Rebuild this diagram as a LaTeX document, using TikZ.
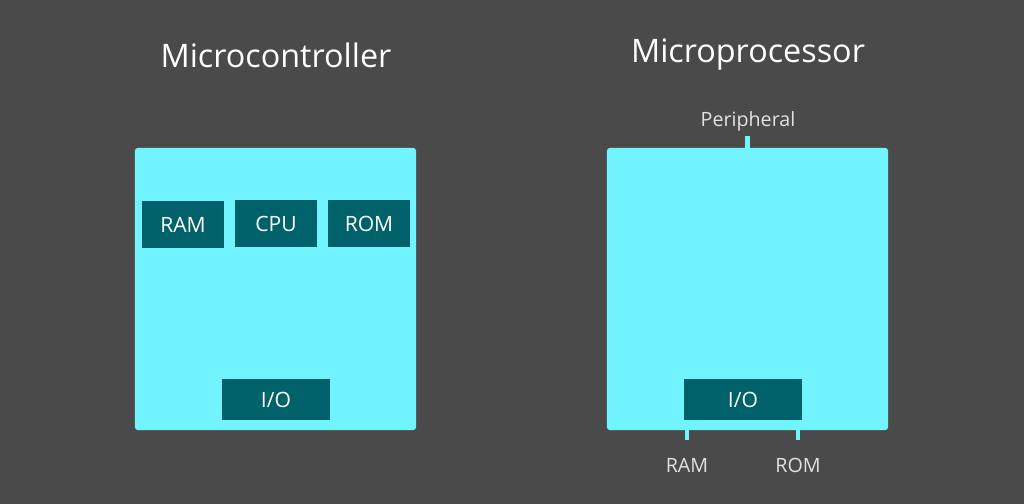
\documentclass[tikz,border=0pt]{standalone}
\usepackage{fontspec}
\setmainfont{Open Sans}
\usetikzlibrary{positioning}
\definecolor{bgc}{RGB}{74,74,74}
\definecolor{chip}{RGB}{114,244,255}
\definecolor{unit}{RGB}{0,97,107}
\definecolor{lbl}{RGB}{225,225,225}
\begin{document}
\begin{tikzpicture}[
  x=0.025cm, y=-0.025cm,
  chipbox/.style={fill=chip, rounded corners=2pt, minimum width=7.025cm, minimum height=7.05cm, inner sep=0},
  unitbox/.style={fill=unit, text=white, font=\fontsize{15}{15}\selectfont, minimum width=2.05cm, minimum height=1.175cm, inner sep=0},
  iobox/.style={unitbox, minimum height=1.025cm},
  title/.style={text=white, font=\fontsize{23}{23}\selectfont},
  pin/.style={font=\fontsize{14}{14}\selectfont, text=lbl},
  stub/.style={chip, line width=3pt}
]
\fill[bgc] (0,0) rectangle (1024,504);
\useasboundingbox (0,0) rectangle (1024,504);

% ================= MICROCONTROLLER =================
\node[title] (tmc) at (276,55) {Microcontroller};
\node[chipbox] (mc) at (275.5,289) {};
\node[unitbox] (ram) at (183,224.5) {RAM};
\node[unitbox] (cpu) at (276,223.5) {CPU};
\node[unitbox] (rom) at (369,223.5) {ROM};
\node[iobox, minimum width=2.7cm] (io1) at (276,399.5) {I/O};

% ================= MICROPROCESSOR =================
\node[title] (tmp) at (748,55) {Microprocessor};
\node[chipbox] (mp) at (747.5,289) {};
\node[iobox, minimum width=2.95cm] (io2) at (743,399.5) {I/O};
\node[pin] (per) at (748,121) {Peripheral};
\node[pin] (pram) at (687,465) {RAM};
\node[pin] (prom) at (798,465) {ROM};

% ================== PINS ==================
\draw[stub] (mp.north) -- ++(0,-12);
\draw[stub] (mp.south -| pram) -- ++(0,10);
\draw[stub] (mp.south -| prom) -- ++(0,10);
\end{tikzpicture}
\end{document}
